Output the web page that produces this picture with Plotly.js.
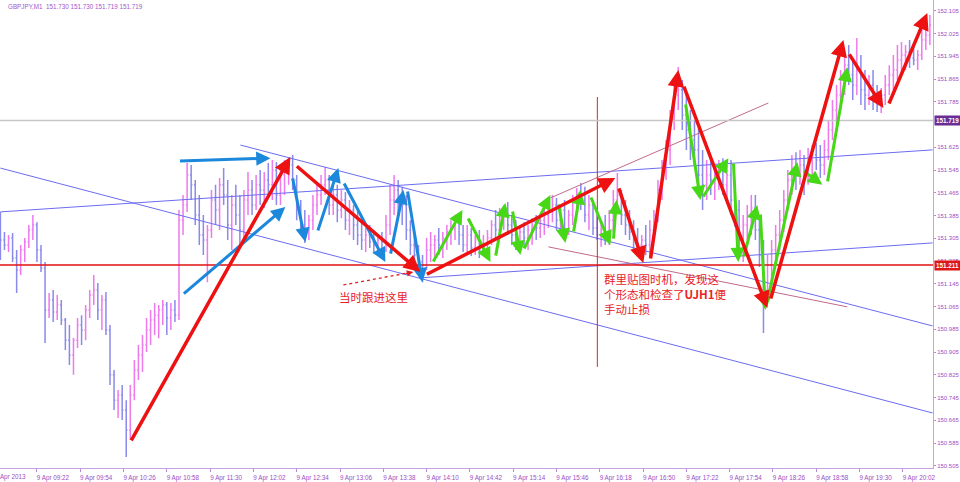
<!DOCTYPE html>
<html><head><meta charset="utf-8">
<script src="https://cdn.plot.ly/plotly-3.0.1.min.js"></script>
<style>html,body{margin:0;padding:0;background:#fff;overflow:hidden}#chart{width:960px;height:482px}</style>
</head><body><div id="chart"></div>
<script>
// ---- data ----
const symbolTitle = 'GBPJPY,M1  151.730 151.730 151.719 151.719';
const sessionStart = '08:55';
const barMinutes = 3;

const open = [
151.317,151.299,151.282,151.306,151.236,151.194,151.264,151.292,151.334,151.352,
151.264,151.201,151.053,151.088,151.046,151.071,151.018,150.947,150.895,150.947,
151.000,150.983,151.053,151.106,151.123,151.053,151.088,150.983,150.825,150.736,
150.754,150.701,150.631,150.754,150.842,150.895,150.930,150.983,151.018,151.035,
151.053,151.071,151.025,151.053,151.035,151.369,151.422,151.528,151.493,151.387,
151.317,151.299,151.334,151.440,151.405,151.493,151.457,151.352,151.422,151.387,
151.334,151.440,151.475,151.422,151.493,151.475,151.510,151.493,151.545,151.457,
151.528,151.545,151.563,151.510,151.405,151.352,151.334,151.369,151.422,151.457,
151.493,151.510,151.422,151.457,151.405,151.440,151.369,151.405,151.352,151.317,
151.299,151.317,151.292,151.282,151.299,151.264,151.352,151.440,151.475,151.440,
151.422,151.334,151.282,151.246,151.222,151.211,151.264,151.282,151.299,151.282,
151.306,151.327,151.341,151.362,151.317,151.282,151.317,151.271,151.299,151.264,
151.282,151.306,151.352,151.334,151.387,151.405,151.352,151.317,151.299,151.327,
151.306,151.334,151.352,151.341,151.369,151.387,151.405,151.422,151.369,151.405,
151.334,151.387,151.440,151.457,151.440,151.387,151.422,151.341,151.317,151.334,
151.306,151.369,151.440,151.457,151.387,151.352,151.327,151.299,151.282,151.299,
151.282,151.334,151.387,151.475,151.545,151.616,151.721,151.809,151.827,151.739,
151.686,151.651,151.616,151.528,151.493,151.528,151.510,151.538,151.552,151.493,
151.528,151.440,151.405,151.299,151.352,151.387,151.412,151.334,151.246,151.123,
151.211,151.264,151.317,151.369,151.440,151.510,151.545,151.528,151.563,151.510,
151.580,151.598,151.580,151.563,151.616,151.686,151.756,151.809,151.862,151.914,
151.879,151.844,151.897,151.827,151.809,151.844,151.791,151.774,151.809,151.844,
151.879,151.897,151.932,151.950,151.960,151.939,151.932,151.950,152.002,152.020];

const high = [
151.398,151.327,151.317,151.324,151.264,151.282,151.306,151.352,151.387,151.362,
151.282,151.222,151.113,151.123,151.106,151.088,151.025,151.000,150.955,151.025,
151.035,151.071,151.123,151.176,151.148,151.106,151.116,151.000,150.842,150.772,
150.789,150.736,150.789,150.877,150.930,150.965,151.025,151.053,151.078,151.071,
151.088,151.081,151.078,151.088,151.405,151.457,151.570,151.563,151.510,151.457,
151.387,151.352,151.475,151.493,151.517,151.552,151.510,151.457,151.493,151.457,
151.475,151.538,151.510,151.528,151.545,151.538,151.570,151.580,151.573,151.545,
151.580,151.587,151.598,151.528,151.440,151.405,151.387,151.457,151.493,151.528,
151.556,151.528,151.500,151.493,151.475,151.468,151.440,151.422,151.405,151.362,
151.341,151.352,151.334,151.317,151.327,151.387,151.493,151.528,151.510,151.486,
151.457,151.369,151.317,151.282,151.246,151.306,151.327,151.317,151.341,151.327,
151.352,151.369,151.387,151.394,151.352,151.352,151.341,151.317,151.334,151.317,
151.334,151.369,151.405,151.412,151.422,151.433,151.387,151.369,151.341,151.362,
151.352,151.376,151.387,151.387,151.412,151.440,151.457,151.447,151.422,151.440,
151.405,151.457,151.482,151.500,151.486,151.457,151.440,151.387,151.369,151.387,
151.405,151.475,151.535,151.475,151.440,151.405,151.369,151.341,151.317,151.352,
151.369,151.405,151.510,151.580,151.651,151.756,151.844,151.907,151.862,151.809,
151.756,151.721,151.697,151.616,151.580,151.580,151.563,151.580,151.587,151.563,
151.580,151.493,151.440,151.387,151.422,151.457,151.457,151.387,151.299,151.246,
151.299,151.352,151.405,151.475,151.545,151.598,151.608,151.616,151.598,151.623,
151.633,151.640,151.633,151.651,151.721,151.791,151.844,151.897,151.950,151.985,
151.932,152.009,151.950,151.897,151.879,151.897,151.844,151.834,151.879,151.914,
151.950,151.985,151.995,151.985,152.002,151.985,151.967,152.038,152.055,152.090];

const low = [
151.229,151.264,151.257,151.222,151.113,151.176,151.222,151.271,151.299,151.222,
151.187,150.937,151.025,151.011,151.018,151.000,150.912,150.860,150.825,150.919,
150.930,150.947,151.025,151.071,151.018,150.983,150.965,150.789,150.701,150.673,
150.666,150.536,150.596,150.736,150.807,150.835,150.905,150.930,150.965,150.954,
151.000,150.965,150.983,151.011,151.018,151.317,151.398,151.440,151.352,151.282,
151.246,151.151,151.306,151.352,151.334,151.422,151.299,151.264,151.352,151.271,
151.299,151.387,151.387,151.405,151.422,151.412,151.457,151.440,151.422,151.422,
151.457,151.493,151.475,151.369,151.317,151.289,151.299,151.334,151.387,151.422,
151.457,151.387,151.387,151.362,151.376,151.334,151.317,151.299,151.282,151.264,
151.257,151.271,151.253,151.246,151.246,151.257,151.317,151.387,151.387,151.352,
151.299,151.246,151.211,151.194,151.151,151.194,151.222,151.229,151.246,151.236,
151.264,151.282,151.299,151.282,151.257,151.246,151.243,151.246,151.236,151.246,
151.257,151.282,151.299,151.306,151.334,151.317,151.282,151.264,151.257,151.271,
151.264,151.282,151.299,151.306,151.317,151.341,151.362,151.334,151.327,151.299,
151.317,151.352,151.387,151.405,151.362,151.334,151.317,151.299,151.275,151.282,
151.282,151.327,151.405,151.352,151.317,151.299,151.264,151.246,151.229,151.246,
151.239,151.299,151.362,151.440,151.510,151.563,151.686,151.756,151.686,151.616,
151.580,151.563,151.475,151.405,151.440,151.457,151.440,151.475,151.457,151.440,
151.387,151.345,151.264,151.222,151.299,151.317,151.299,151.204,150.972,151.088,
151.158,151.211,151.264,151.327,151.405,151.457,151.475,151.493,151.457,151.493,
151.528,151.545,151.517,151.528,151.580,151.651,151.704,151.756,151.809,151.844,
151.791,151.809,151.774,151.756,151.774,151.756,151.749,151.746,151.774,151.809,
151.827,151.862,151.879,151.897,151.904,151.914,151.897,151.932,151.967,151.985];

const close = [
151.299,151.282,151.306,151.236,151.194,151.264,151.292,151.334,151.352,151.264,
151.201,151.053,151.088,151.046,151.071,151.018,150.947,150.895,150.947,151.000,
150.983,151.053,151.106,151.123,151.053,151.088,150.983,150.825,150.736,150.754,
150.701,150.631,150.754,150.842,150.895,150.930,150.983,151.018,151.035,151.053,
151.071,151.025,151.053,151.035,151.369,151.422,151.528,151.493,151.387,151.317,
151.299,151.334,151.440,151.405,151.493,151.457,151.352,151.422,151.387,151.334,
151.440,151.475,151.422,151.493,151.475,151.510,151.493,151.545,151.457,151.528,
151.545,151.563,151.510,151.405,151.352,151.334,151.369,151.422,151.457,151.493,
151.510,151.422,151.457,151.405,151.440,151.369,151.405,151.352,151.317,151.299,
151.317,151.292,151.282,151.299,151.264,151.352,151.440,151.475,151.440,151.422,
151.334,151.282,151.246,151.222,151.211,151.264,151.282,151.299,151.282,151.306,
151.327,151.341,151.362,151.317,151.282,151.317,151.271,151.299,151.264,151.282,
151.306,151.352,151.334,151.387,151.405,151.352,151.317,151.299,151.327,151.306,
151.334,151.352,151.341,151.369,151.387,151.405,151.422,151.369,151.405,151.334,
151.387,151.440,151.457,151.440,151.387,151.422,151.341,151.317,151.334,151.306,
151.369,151.440,151.457,151.387,151.352,151.327,151.299,151.282,151.299,151.282,
151.334,151.387,151.475,151.545,151.616,151.721,151.809,151.827,151.739,151.686,
151.651,151.616,151.528,151.493,151.528,151.510,151.538,151.552,151.493,151.528,
151.440,151.405,151.299,151.352,151.387,151.412,151.334,151.246,151.123,151.211,
151.264,151.317,151.369,151.440,151.510,151.545,151.528,151.563,151.510,151.580,
151.598,151.580,151.563,151.616,151.686,151.756,151.809,151.862,151.914,151.879,
151.844,151.897,151.827,151.809,151.844,151.791,151.774,151.809,151.844,151.879,
151.897,151.932,151.950,151.960,151.939,151.932,151.950,152.002,152.020,152.055];

const tickLabels = ['9 Apr 09:22','9 Apr 09:54','9 Apr 10:26','9 Apr 10:58','9 Apr 11:30','9 Apr 12:02',
  '9 Apr 12:34','9 Apr 13:06','9 Apr 13:38','9 Apr 14:10','9 Apr 14:42','9 Apr 15:14','9 Apr 15:46',
  '9 Apr 16:18','9 Apr 16:50','9 Apr 17:22','9 Apr 17:54','9 Apr 18:26','9 Apr 18:58','9 Apr 19:30','9 Apr 20:02'];
const firstDateLabel = '9 Apr 2013';
// 151.705 is hidden behind the bid-price box in the reference
const priceTicks = [150.505,150.585,150.665,150.745,150.825,150.905,150.985,151.065,151.145,151.225,
  151.305,151.385,151.465,151.545,151.625,151.785,151.865,151.945,152.025,152.105];

const supportLevel = 151.211;
const bidLevel = 151.719;

// drawn objects, [minute0, price0, minute1, price1]
const channelLines = [
  [0,151.398,689,151.616],
  [0,151.552,689,150.691],
  [177.4,151.633,689,150.997],
  [310.4,151.166,689,151.289]
];
const mauveLines = [
  [405,151.275,626,151.064],
  [406.5,151.447,567.6,151.781]
];
const markerLine = [441.2,151.802,441.2,150.853];
const dashedArrow = [253.5,151.141,305.2,151.187];

const redArrows = [
  [96.1,150.589,214.3,151.591],[218.0,151.563,310.4,151.187],[314.1,151.176,454.5,151.517],
  [456.8,151.486,475.2,151.218],[480.4,151.229,501.1,151.897],[504.8,151.844,566.9,151.060],
  [569.1,151.088,623.1,152.002],[626.8,151.957,652.6,151.763],[656.3,151.774,685.1,152.097]
];
const blueArrows = [
  [131.6,151.577,199.6,151.587],[134.5,151.106,210.6,151.415],[215.8,151.521,225.4,151.292],
  [234.3,151.327,249.8,151.552],[253.5,151.503,284.5,151.222],[288.2,151.246,297.9,151.475],
  [300.8,151.475,311.9,151.151]
];
const greenArrows = [
  [319.3,151.218,341.5,151.405],[345.2,151.380,362.2,151.222],[365.9,151.239,373.2,151.429],
  [378.4,151.405,384.3,151.246],[386.6,151.264,406.5,151.457],[412.4,151.429,417.6,151.289],
  [423.5,151.324,428.7,151.475],[436.1,151.454,450.9,151.282],[453.1,151.299,455.3,151.440],
  [506.3,151.781,517.4,151.440],[518.8,151.447,538.1,151.587],[541.8,151.573,545.4,151.222],
  [549.2,151.236,559.5,151.422],[561.7,151.394,565.4,151.053],[567.6,151.099,589.1,151.573],
  [592.8,151.545,607.5,151.493],[611.2,151.500,626.0,151.907]
];

const noteEntry = {text:'当时跟进这里', minute:249, price:151.099};
const noteStop = {text:'群里贴图时机，发现这<br>个形态和检查了<b>UJH1</b>便<br>手动止损', minute:445, price:151.196};

// ---- build ----
function toMinute(label){
  const hm = label.split(' ').pop().split(':');
  const s = sessionStart.split(':');
  return (+hm[0]*60 + +hm[1]) - (+s[0]*60 + +s[1]);
}
const barTime = close.map((_, i) => i*barMinutes);
const tickMinutes = tickLabels.map(toMinute);

const trace = {
  type:'ohlc', x:barTime, open:open, high:high, low:low, close:close,
  increasing:{line:{color:'#ee7aee', width:1.5}},
  decreasing:{line:{color:'#8a8aec', width:1.5}},
  tickwidth:0.3, hoverinfo:'skip', showlegend:false
};

const shapes = [];
channelLines.forEach(l => shapes.push({type:'line', xref:'x', yref:'y', x0:l[0], y0:l[1], x1:l[2], y1:l[3],
  line:{color:'#6c6cf2', width:1}}));
mauveLines.forEach(l => shapes.push({type:'line', xref:'x', yref:'y', x0:l[0], y0:l[1], x1:l[2], y1:l[3],
  line:{color:'#c06a8c', width:1}}));
shapes.push({type:'line', xref:'x', yref:'y', x0:markerLine[0], y0:markerLine[1], x1:markerLine[2], y1:markerLine[3],
  line:{color:'#d42a2a', width:1}});
shapes.push({type:'line', xref:'paper', yref:'y', x0:0, x1:1, y0:bidLevel, y1:bidLevel, line:{color:'#c6c6c6', width:1.5}});
shapes.push({type:'line', xref:'paper', yref:'y', x0:0, x1:1, y0:supportLevel, y1:supportLevel, line:{color:'#e01010', width:1.6}});
shapes.push({type:'line', xref:'x', yref:'y', x0:dashedArrow[0], y0:dashedArrow[1], x1:dashedArrow[2], y1:dashedArrow[3],
  line:{color:'#e02020', width:1.3, dash:'3px,3px'}});

const annotations = [];
function addArrows(list, color, width){
  list.forEach(a => annotations.push({xref:'x', yref:'y', axref:'x', ayref:'y',
    x:a[2], y:a[3], ax:a[0], ay:a[1], text:'', showarrow:true,
    arrowhead:2, arrowsize:0.95, arrowwidth:width, arrowcolor:color, standoff:0, startstandoff:0}));
}
addArrows(blueArrows, '#1c88dc', 3);
addArrows(greenArrows, '#46d816', 3);
addArrows(redArrows, '#ee1111', 3.5);
annotations.push({xref:'x', yref:'y', x:dashedArrow[2], y:dashedArrow[3], ax:-9, ay:2, text:'',
  showarrow:true, arrowhead:2, arrowsize:1, arrowwidth:1.3, arrowcolor:'#e02020', standoff:0});

const cjk = 'Noto Sans CJK SC, sans-serif';
annotations.push({xref:'x', yref:'y', x:noteEntry.minute, y:noteEntry.price, xanchor:'left', yanchor:'middle',
  text:noteEntry.text, showarrow:false, font:{family:cjk, size:11.5, color:'#e8221f'}});
annotations.push({xref:'x', yref:'y', x:noteStop.minute, y:noteStop.price, xanchor:'left', yanchor:'top', align:'left',
  text:noteStop.text, showarrow:false, font:{family:cjk, size:11.5, color:'#e8221f'}});

const smallFont = 'Liberation Sans, DejaVu Sans, sans-serif';
annotations.push({xref:'paper', yref:'y', x:1, y:bidLevel, xanchor:'left', yanchor:'middle', xshift:1,
  text:'<b>'+bidLevel.toFixed(3)+'</b>', showarrow:false, bgcolor:'#6b2d94', borderpad:1,
  font:{family:smallFont, size:6.3, color:'#ffffff'}});
annotations.push({xref:'paper', yref:'y', x:1, y:supportLevel, xanchor:'left', yanchor:'middle', xshift:1,
  text:'<b>'+supportLevel.toFixed(3)+'</b>', showarrow:false, bgcolor:'#e01515', borderpad:1,
  font:{family:smallFont, size:6.3, color:'#ffffff'}});
annotations.push({xref:'paper', yref:'paper', x:0, y:1, xanchor:'left', yanchor:'top', xshift:6, yshift:-1,
  text:symbolTitle, showarrow:false, font:{family:smallFont, size:6.3, color:'#a257cc'}});
annotations.push({xref:'paper', yref:'paper', x:0, y:0, xanchor:'left', yanchor:'top', xshift:-7, yshift:-3,
  text:firstDateLabel, showarrow:false, font:{family:smallFont, size:6.3, color:'#9b4fc4'}});

const layout = {
  width:960, height:482,
  margin:{l:0, r:27, t:0, b:14, pad:0},
  paper_bgcolor:'#ffffff', plot_bgcolor:'#ffffff',
  showlegend:false,
  xaxis:{type:'linear', range:[-0.3, 689.3], showgrid:false, zeroline:false,
    showline:true, linecolor:'#c9a2e0', linewidth:1,
    ticks:'outside', ticklen:3, tickcolor:'#b78ad6',
    tickvals:tickMinutes, ticktext:tickLabels, ticklabelshift:16,
    tickfont:{family:smallFont, size:6.3, color:'#9b4fc4'},
    rangeslider:{visible:false}, fixedrange:true},
  yaxis:{side:'right', range:[150.4975, 152.143], showgrid:false, zeroline:false,
    showline:true, linecolor:'#c9a2e0', linewidth:1,
    ticks:'outside', ticklen:2, tickcolor:'#b78ad6',
    tickvals:priceTicks, ticktext:priceTicks.map(v => v.toFixed(3)),
    tickfont:{family:smallFont, size:6, color:'#9b4fc4'}, fixedrange:true},
  shapes:shapes,
  annotations:annotations
};

Plotly.newPlot('chart', [trace], layout, {staticPlot:true, displayModeBar:false});
</script>
</body></html>
